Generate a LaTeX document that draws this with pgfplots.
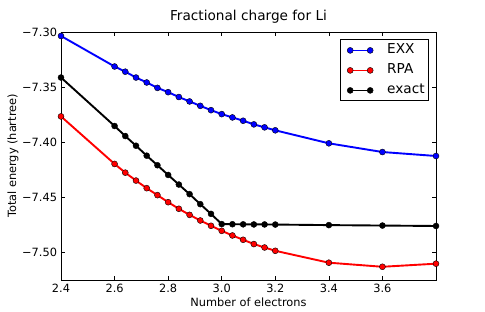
\documentclass[border=0pt]{standalone}
\usepackage{pgfplots}
\pgfplotsset{compat=1.18}
\usepackage{fontspec}
\setmainfont{DejaVu Sans}
\newcommand{\lblfont}{\fontsize{11.4}{13.5}\selectfont}
\newcommand{\ttlfont}{\fontsize{13.7}{16}\selectfont}
\pgfplotstableread{
x      exx      rpa      exact
2.40  -7.3036  -7.3766  -7.3413
2.60  -7.3313  -7.4197  -7.3853
2.64  -7.3360  -7.4276  -7.3944
2.68  -7.3413  -7.4348  -7.4032
2.72  -7.3458  -7.4417  -7.4122
2.76  -7.3507  -7.4480  -7.4209
2.80  -7.3546  -7.4544  -7.4297
2.84  -7.3590  -7.4604  -7.4384
2.88  -7.3630  -7.4659  -7.4471
2.92  -7.3670  -7.4710  -7.4562
2.96  -7.3709  -7.4758  -7.4650
3.00  -7.3745  -7.4804  -7.4743
3.04  -7.3775  -7.4846  -7.4744
3.08  -7.3805  -7.4885  -7.4745
3.12  -7.3838  -7.4924  -7.4746
3.16  -7.3865  -7.4955  -7.4746
3.20  -7.3892  -7.4985  -7.4747
3.40  -7.4010  -7.5093  -7.4752
3.60  -7.4089  -7.5130  -7.4756
3.80  -7.4125  -7.5102  -7.4760
}\datatable
\begin{document}
\begin{tikzpicture}
\path[use as bounding box] (0,0) rectangle (485bp,312bp);
\begin{axis}[
  at={(61bp,32bp)}, anchor=south west,
  scale only axis, width=375bp, height=248bp,
  xmin=2.4, xmax=3.8, ymin=-7.525, ymax=-7.30,
  xtick={2.4,2.6,2.8,3.0,3.2,3.4,3.6},
  xticklabels={2.4,2.6,2.8,3.0,3.2,3.4,3.6},
  ytick={-7.50,-7.45,-7.40,-7.35,-7.30},
  yticklabels={−7.50,−7.45,−7.40,−7.35,−7.30},
  tick align=inside,
  major tick length=3.7bp,
  tick style={black, line width=0.6bp},
  axis line style={line width=0.9bp},
  ticklabel style={font=\lblfont},
  yticklabel style={xshift=-0.5bp},
  xticklabel style={yshift=-1bp},
  title={Fractional charge for Li},
  title style={font=\ttlfont, at={(axis description cs:0.5,1)}, anchor=base, yshift=6bp},
  xlabel={Number of electrons},
  xlabel style={font=\lblfont, at={(axis description cs:0.5,0)}, anchor=center, yshift=-22bp},
  ylabel={Total energy (hartree)},
  ylabel style={font=\lblfont, at={(axis description cs:-0.128,0.5)}, anchor=center},
  legend style={at={(1,1)}, anchor=north east, xshift=-7bp, yshift=-7.5bp,
    draw=black, line width=0.8bp, font=\ttlfont,
    inner xsep=2bp, inner ysep=2bp, row sep=3bp,
    nodes={inner sep=2bp, text height=10bp, text depth=3bp},
    /tikz/every even column/.append style={column sep=0bp}},
  legend cell align=left,
  legend image code/.code={%
    \path (-7bp,0bp) (34bp,0bp);
    \draw[#1, line width=1.4bp] plot coordinates {(0bp,0bp) (20bp,0bp)};},
]
\addplot[blue, line width=1.9bp, mark=*, mark size=3bp, mark options={fill=blue, draw=black, line width=0.4bp}] table[x=x, y=exx] {\datatable};
\addlegendentry{EXX}
\addplot[red, line width=1.9bp, mark=*, mark size=3bp, mark options={fill=red, draw=black, line width=0.4bp}] table[x=x, y=rpa] {\datatable};
\addlegendentry{RPA}
\addplot[black, line width=1.9bp, mark=*, mark size=3bp, mark options={fill=black, draw=black, line width=0.4bp}] table[x=x, y=exact] {\datatable};
\addlegendentry{exact}
\end{axis}
\end{tikzpicture}
\end{document}
